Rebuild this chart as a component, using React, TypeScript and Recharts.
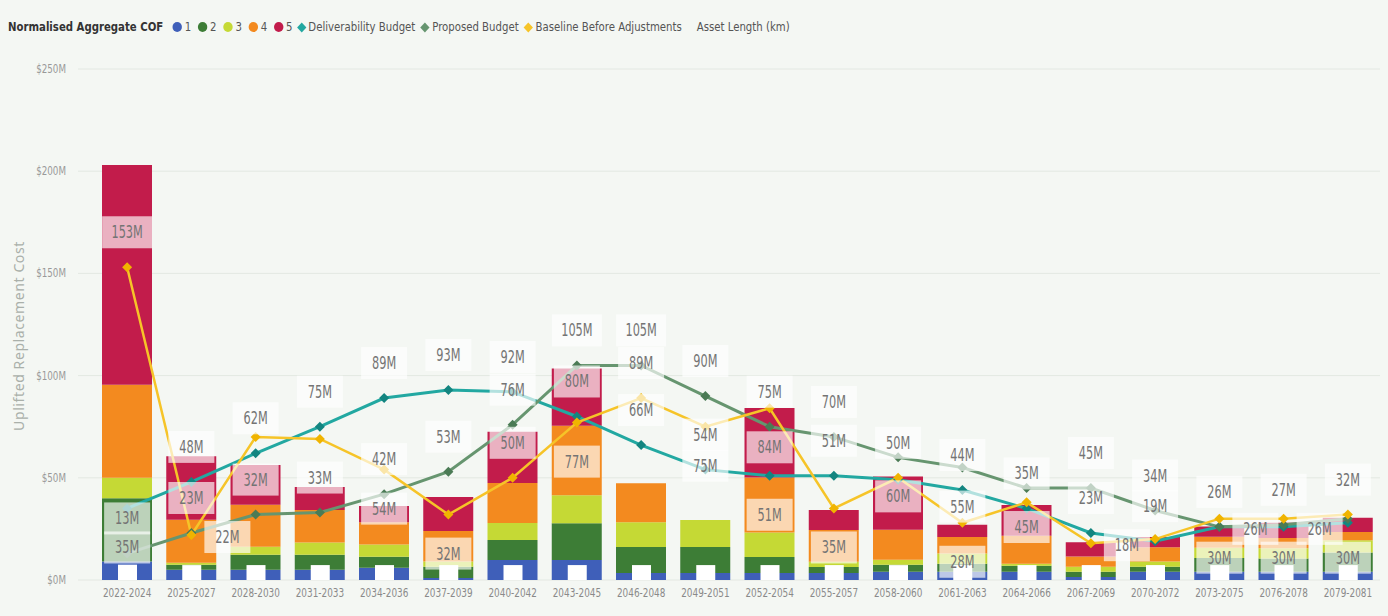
import React from 'react';
import { ComposedChart, Bar, Line, XAxis, YAxis, CartesianGrid, LabelList } from 'recharts';

const categories = [
  '2022-2024', '2025-2027', '2028-2030', '2031-2033', '2034-2036', '2037-2039', '2040-2042',
  '2043-2045', '2046-2048', '2049-2051', '2052-2054', '2055-2057', '2058-2060', '2061-2063',
  '2064-2066', '2067-2069', '2070-2072', '2073-2075', '2076-2078', '2079-2081',
];

// Normalised Aggregate COF stacks ($M)
const cof1 = [9, 5, 5, 5, 6, 1, 9.8, 9.8, 3.4, 3.4, 3.4, 3.4, 4, 4, 4, 1.5, 4, 4, 4, 4];
const cof2 = [31, 2.5, 7.3, 7.3, 5.4, 5.5, 9.8, 18, 12.7, 12.7, 7.8, 3, 3.4, 4, 3, 2.5, 2.5, 6.8, 6.5, 9.5];
const cof3 = [10, 1, 4, 6, 6, 2.5, 8.3, 13.7, 12.2, 13.2, 12, 2.5, 2.5, 5, 1, 2.5, 2.5, 5, 5, 6];
const cof4 = [45.5, 21, 20.5, 16, 10.8, 15, 19.6, 34, 19, 0, 27, 15.6, 14.7, 8, 13.7, 5, 7, 5.4, 5, 4];
const cof5 = [107.5, 31, 19.5, 11.2, 8, 16.6, 25, 28, 0, 0, 34, 9.8, 26, 6, 15, 7, 5, 5, 7.5, 7];
const assetLength = [7.5, 7.3, 7.3, 7.3, 7.3, 7.3, 7.3, 7.3, 7.3, 7.3, 7.3, 7.3, 7.3, 7.3, 7.3, 7.3, 7.3, 7.3, 7.3, 7.3];

const deliverability = [35, 48, 62, 75, 89, 93, 92, 80, 66, 54, 51, 51, 49, 44, 35, 23, 19, 26, 26, 28];
const deliverabilityLabels = ['35M', '48M', '62M', '75M', '89M', '93M', '92M', '80M', '66M', '54M', '51M', '51M', null, '44M', '35M', '23M', '19M', '26M', '26M', null];
const proposed = [13, 23, 32, 33, 42, 53, 76, 105, 105, 90, 75, 70, 60, 55, 45, 45, 34, 26, 27, 30];
const proposedLabels = ['13M', '23M', '32M', '33M', '42M', '53M', '76M', '105M', '105M', '90M', '75M', '70M', '60M', '55M', '45M', '45M', '34M', '26M', '27M', '30M'];
const baseline = [153, 22, 70, 69, 54, 32, 50, 77, 89, 75, 84, 35, 50, 28, 38, 18, 20, 30, 30, 32];
const baselineLabels = ['153M', '22M', null, null, '54M', '32M', '50M', '77M', '89M', '75M', '84M', '35M', '50M', '28M', null, '18M', null, '30M', '30M', '32M'];

const yTicks = [0, 50, 100, 150, 200, 250];

// label placement (Power BI auto-positioned some labels below / to the right of their point)
const deliverabilityBelow = [0, 10];
const deliverabilityRight = [17, 18];
const proposedBelow = [12, 13, 14, 19];
const proposedRight: number[] = [];
const baselineBelow = [4, 5, 7, 9, 10, 11, 13, 17, 18];
const baselineRight = [1, 15];

const data = categories.map((cat, i) => ({
  cat,
  c1: cof1[i],
  c2: cof2[i],
  c3: cof3[i],
  c4: cof4[i],
  c5: cof5[i],
  asset: assetLength[i],
  deliv: deliverability[i],
  prop: proposed[i],
  base: baseline[i],
}));

const FONT = '"Liberation Sans Narrow", "DejaVu Sans Condensed", "Open Sans", "Liberation Sans", sans-serif';

const C = {
  c1: '#3f5fb9',
  c2: '#3d7d36',
  c3: '#c5d935',
  c4: '#f38a1f',
  c5: '#c21c4b',
  deliv: '#22a8a1',
  delivDot: '#138580',
  prop: '#66956f',
  propDot: '#4b7b55',
  base: '#f6c428',
  baseDot: '#f0b400',
};

const diamond = (color: string) => (props: any) => {
  const { cx, cy, index } = props;
  if (cx == null || cy == null) return <g key={`e-${index}`} />;
  return (
    <path
      key={`d-${index}`}
      d={`M${cx},${cy - 5}L${cx + 5},${cy}L${cx},${cy + 5}L${cx - 5},${cy}Z`}
      fill={color}
    />
  );
};

const makeLabel = (labels: (string | null)[], below: number[], right: number[]) => (props: any) => {
  const { x, y, index } = props;
  const text = labels[index];
  if (!text || x == null || y == null) return null;
  let cx = Number(x);
  let cy = Number(y) - 35;
  if (below.includes(index)) cy = Number(y) + 39;
  if (right.includes(index)) {
    cx = Number(x) + 36;
    cy = Number(y) + 2;
  }
  const w = text.length > 3 ? 50 : 46;
  return (
    <g key={`l-${index}`}>
      <rect x={cx - w / 2} y={cy - 16} width={w} height={32} fill="#ffffff" fillOpacity={0.66} />
      <text
        transform={`translate(${cx},${cy + 6}) scale(0.74,1)`}
        textAnchor="middle"
        fontSize={17}
        fill="#747474"
        fontFamily={FONT}
      >
        {text}
      </text>
    </g>
  );
};

const XTick = (props: any) => {
  const { x, y, payload } = props;
  return (
    <text transform={`translate(${x},${y + 9}) scale(0.76,1)`} textAnchor="middle" fontSize={13} fill="#8a8a8a" fontFamily={FONT}>
      {payload.value}
    </text>
  );
};

const YTick = (props: any) => {
  const { x, y, payload } = props;
  return (
    <text transform={`translate(${x},${y + 4}) scale(0.78,1)`} textAnchor="end" fontSize={12.5} fill="#999" fontFamily={FONT}>
      {`$${payload.value}M`}
    </text>
  );
};

const LegendDot = ({ color }: { color: string }) => (
  <span style={{ display: 'inline-block', width: 10, height: 10, borderRadius: 5, background: color, marginRight: 3 }} />
);
const LegendDiamond = ({ color }: { color: string }) => (
  <span style={{ display: 'inline-block', width: 7, height: 7, background: color, transform: 'rotate(45deg)', marginRight: 4, marginLeft: 1 }} />
);

export default function App() {
  return (
    <div style={{ position: 'absolute', left: 0, top: 0, width: 1388, height: 616, background: '#f4f7f3', overflow: 'hidden' }}>
      <div
        style={{
          position: 'absolute',
          left: 8,
          top: 19,
          height: 16,
          display: 'flex',
          alignItems: 'center',
          fontFamily: FONT,
          fontSize: 12,
          color: '#555',
          whiteSpace: 'nowrap',
          transform: 'scaleX(0.94)',
          transformOrigin: 'left center',
        }}
      >
        <span style={{ fontWeight: 'bold', color: '#333', marginRight: 10 }}>Normalised Aggregate COF</span>
        <LegendDot color={C.c1} /><span style={{ marginRight: 7 }}>1</span>
        <LegendDot color={C.c2} /><span style={{ marginRight: 7 }}>2</span>
        <LegendDot color={C.c3} /><span style={{ marginRight: 7 }}>3</span>
        <LegendDot color={C.c4} /><span style={{ marginRight: 7 }}>4</span>
        <LegendDot color={C.c5} /><span style={{ marginRight: 5 }}>5</span>
        <LegendDiamond color={C.deliv} /><span style={{ marginRight: 6 }}>Deliverability Budget</span>
        <LegendDiamond color={C.prop} /><span style={{ marginRight: 6 }}>Proposed Budget</span>
        <LegendDiamond color={C.base} /><span style={{ marginRight: 16 }}>Baseline Before Adjustments</span>
        <span>Asset Length (km)</span>
      </div>
      <div
        style={{
          position: 'absolute',
          left: 18,
          top: 336,
          transform: 'translate(-50%, -50%) rotate(-90deg)',
          whiteSpace: 'nowrap',
          fontFamily: '"Noto Sans", sans-serif',
          fontSize: 14,
          letterSpacing: 0.6,
          color: '#aab0aa',
        }}
      >
        Uplifted Replacement Cost
      </div>
      <ComposedChart
        width={1388}
        height={616}
        data={data}
        margin={{ top: 69, right: 8, bottom: 6, left: 0 }}
        style={{ position: 'absolute', left: 0, top: 0 }}
      >
        <CartesianGrid vertical={false} stroke="#e3e8e2" />
        <XAxis
          dataKey="cat"
          xAxisId="main"
          interval={0}
          tickLine={false}
          axisLine={false}
          height={30}
          padding={{ left: 17, right: 0 }}
          tick={<XTick />}
        />
        <XAxis dataKey="cat" xAxisId="asset" hide orientation="top" height={0} padding={{ left: 17, right: 0 }} />
        <YAxis
          domain={[0, 250]}
          ticks={yTicks}
          width={78}
          tickLine={false}
          axisLine={false}
          tickSize={0}
          tickMargin={12}
          tick={<YTick />}
        />
        <Bar xAxisId="main" dataKey="c1" stackId="cof" fill={C.c1} barSize={50} isAnimationActive={false} />
        <Bar xAxisId="main" dataKey="c2" stackId="cof" fill={C.c2} barSize={50} isAnimationActive={false} />
        <Bar xAxisId="main" dataKey="c3" stackId="cof" fill={C.c3} barSize={50} isAnimationActive={false} />
        <Bar xAxisId="main" dataKey="c4" stackId="cof" fill={C.c4} barSize={50} isAnimationActive={false} />
        <Bar xAxisId="main" dataKey="c5" stackId="cof" fill={C.c5} barSize={50} isAnimationActive={false} />
        <Bar xAxisId="asset" dataKey="asset" fill="#ffffff" barSize={19} isAnimationActive={false} />
        <Line xAxisId="main" type="linear" dataKey="deliv" stroke={C.deliv} strokeWidth={3} dot={diamond(C.delivDot)} activeDot={false} isAnimationActive={false} />
        <Line xAxisId="main" type="linear" dataKey="prop" stroke={C.prop} strokeWidth={3} dot={diamond(C.propDot)} activeDot={false} isAnimationActive={false} />
        <Line xAxisId="main" type="linear" dataKey="base" stroke={C.base} strokeWidth={2.5} dot={diamond(C.baseDot)} activeDot={false} isAnimationActive={false} />
        <Line xAxisId="main" dataKey="deliv" stroke="none" dot={false} activeDot={false} legendType="none" isAnimationActive={false}>
          <LabelList dataKey="deliv" content={makeLabel(deliverabilityLabels, deliverabilityBelow, deliverabilityRight)} />
        </Line>
        <Line xAxisId="main" dataKey="prop" stroke="none" dot={false} activeDot={false} legendType="none" isAnimationActive={false}>
          <LabelList dataKey="prop" content={makeLabel(proposedLabels, proposedBelow, proposedRight)} />
        </Line>
        <Line xAxisId="main" dataKey="base" stroke="none" dot={false} activeDot={false} legendType="none" isAnimationActive={false}>
          <LabelList dataKey="base" content={makeLabel(baselineLabels, baselineBelow, baselineRight)} />
        </Line>
      </ComposedChart>
    </div>
  );
}
